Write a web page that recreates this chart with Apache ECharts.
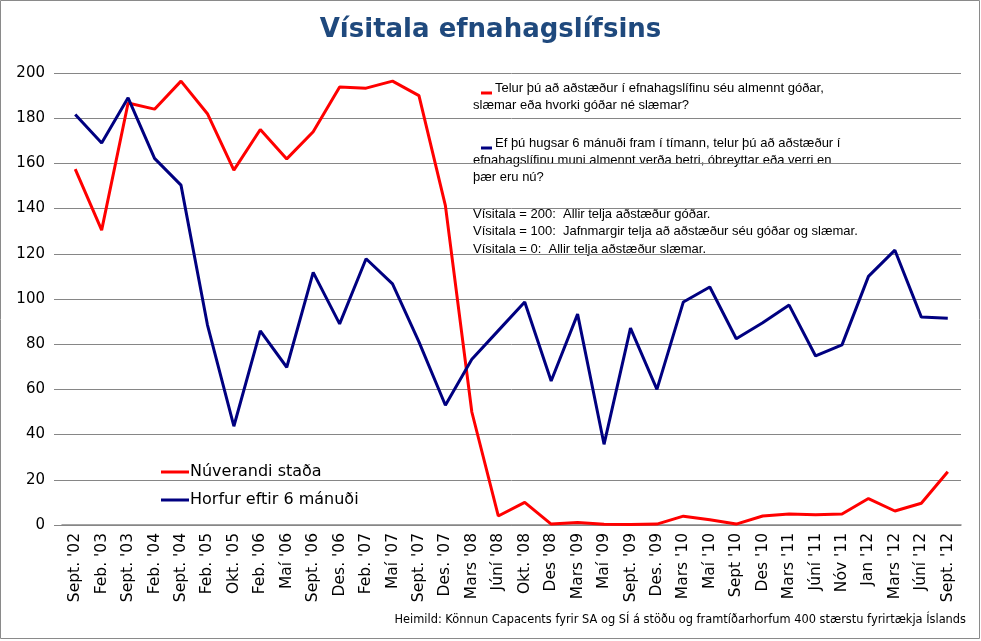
<!DOCTYPE html>
<html>
<head>
<meta charset="utf-8">
<script src="https://cdn.jsdelivr.net/npm/echarts@6/dist/echarts.min.js"></script>
<style>
html,body{margin:0;padding:0;background:#fff;}
#chart{width:981px;height:641px;}
</style>
</head>
<body>
<div id="chart"></div>
<script>
const categories = ["Sept. '02","Feb. '03","Sept. '03","Feb. '04","Sept. '04","Feb. '05","Okt. '05","Feb. '06","Maí '06","Sept. '06","Des. '06","Feb. '07","Maí '07","Sept. '07","Des. '07","Mars '08","Júní '08","Okt. '08","Des '08","Mars '09","Maí '09","Sept. '09","Des. '09","Mars '10","Maí '10","Sept '10","Des '10","Mars '11","Júní '11","Nóv '11","Jan '12","Mars '12","Júní '12","Sept. '12"];
const nuverandi = [157.5,130.5,186.7,184,196.4,182,157,175,162,174,193.8,193.3,196.4,190,141.3,50,4,10,0.4,1.1,0.3,0.2,0.4,3.9,2.3,0.4,4,4.9,4.5,4.9,11.7,6.2,9.6,23.6];
const horfur = [181.6,169,189,162.2,150.4,88.6,43.7,85.9,69.8,111.8,89,117.8,106.7,81,53,73.3,86,98.7,63.7,93.3,35.7,87.1,60,98.7,105.3,82.4,89.5,97.3,74.8,79.7,110,121.6,92,91.5];
const seriesNames = ["Núverandi staða","Horfur eftir 6 mánuði"];
const titleText = "Vísitala efnahagslífsins";
const noteLines = [
  "Telur þú að aðstæður í efnahagslífinu séu almennt góðar,",
  "slæmar eða hvorki góðar né slæmar?",
  "Ef þú hugsar 6 mánuði fram í tímann, telur þú að aðstæður í",
  "efnahagslífinu muni almennt verða betri, óbreyttar eða verri en",
  "þær eru nú?",
  "Vísitala = 200:  Allir telja aðstæður góðar.",
  "Vísitala = 100:  Jafnmargir telja að aðstæður séu góðar og slæmar.",
  "Vísitala = 0:  Allir telja aðstæður slæmar."
];
const sourceText = "Heimild: Könnun Capacents fyrir SA og SÍ á stöðu og framtíðarhorfum 400 stærstu fyrirtækja Íslands";

const chart = echarts.init(document.getElementById('chart'), null, {renderer:'canvas'});
const noteFont = '13px "Liberation Sans", Arial, sans-serif';
const noteY = [88,105,143,160,177,214,231,249];
const noteX = [495,473,495,473,473,473,473,473];
const graphics = [
  {type:'rect', shape:{x:0.5,y:0.5,width:979,height:638}, style:{fill:'none', stroke:'#8a8a8a', lineWidth:1}, silent:true},
  {type:'rect', shape:{x:481,y:91.5,width:11,height:3}, style:{fill:'#ff0000'}},
  {type:'rect', shape:{x:481,y:146.5,width:11,height:3}, style:{fill:'#000080'}},
  {type:'text', right:15, top:615, style:{text:sourceText, fill:'#000', font:'11.4px "DejaVu Sans", Verdana, sans-serif'}}
];
noteLines.forEach((t,i)=>{
  graphics.push({type:'text', x:noteX[i], y:noteY[i], style:{text:t, fill:'#000', font:noteFont, textVerticalAlign:'middle'}});
});

chart.setOption({
  animation:false,
  backgroundColor:'#fff',
  title:{text:titleText, left:'center', top:12, textStyle:{color:'#1f497d', fontFamily:'"DejaVu Sans", Verdana, sans-serif', fontWeight:'bold', fontSize:26}},
  grid:{left:62, right:20, top:73, bottom:116},
  legend:{orient:'vertical', left:156, top:459, itemWidth:28, itemHeight:14, itemGap:12, icon:'rect',
    data:[{name:seriesNames[0], icon:'path://M0,6 L28,6 L28,9 L0,9 Z'},{name:seriesNames[1], icon:'path://M0,6 L28,6 L28,9 L0,9 Z'}],
    textStyle:{fontFamily:'"DejaVu Sans", Verdana, sans-serif', fontSize:16, color:'#000', padding:[0,0,0,-4]}},
  xAxis:{type:'category', data:categories, boundaryGap:true,
    axisLine:{lineStyle:{color:'#868686', width:1.5}}, axisTick:{show:false},
    axisLabel:{rotate:90, interval:0, margin:8, color:'#000', fontFamily:'"DejaVu Sans", Verdana, sans-serif', fontSize:15.5}},
  yAxis:{type:'value', min:0, max:200, interval:20,
    axisLine:{show:false}, axisTick:{show:true, length:8, lineStyle:{color:'#868686'}},
    splitLine:{lineStyle:{color:'#868686', width:1}},
    axisLabel:{margin:17, color:'#000', fontFamily:'"DejaVu Sans", Verdana, sans-serif', fontSize:15}},
  series:[
    {name:seriesNames[0], type:'line', data:nuverandi, showSymbol:false, symbol:'none', lineStyle:{color:'#ff0000', width:3}, itemStyle:{color:'#ff0000'}},
    {name:seriesNames[1], type:'line', data:horfur, showSymbol:false, symbol:'none', lineStyle:{color:'#000080', width:3}, itemStyle:{color:'#000080'}}
  ],
  graphic:graphics
});
</script>
</body>
</html>
